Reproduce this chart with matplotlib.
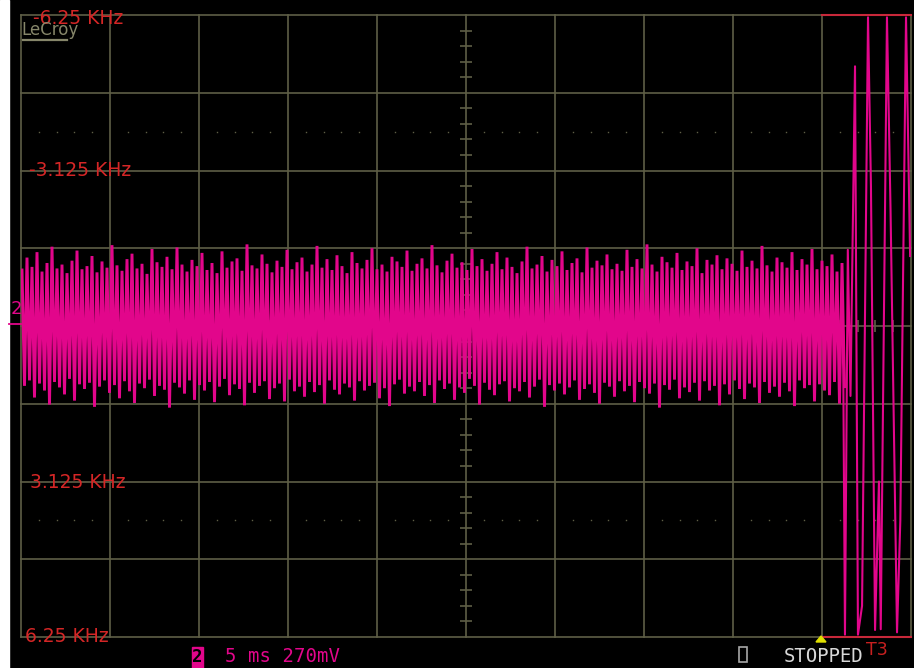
import numpy as np
import matplotlib.pyplot as plt
from matplotlib.patches import Rectangle, Polygon
from matplotlib.lines import Line2D

# screen is 10 x 8 divisions, noise peaks below are in 1/100 division
noise_hi = [72, 88, 76, 95, 70, 81, 102, 74, 79, 68,
            84, 97, 73, 77, 90, 69, 83, 75, 104, 78,
            71, 86, 93, 74, 80, 67, 99, 82, 76, 89,
            73, 101, 79, 70, 85, 77, 94, 72, 81, 68,
            96, 75, 83, 87, 71, 105, 78, 74, 92, 80,
            69, 84, 76, 98, 73, 82, 88, 70, 79, 103,
            75, 86, 72, 91, 77, 68, 95, 81, 74, 85,
            100, 73, 79, 70, 89, 83, 76, 97, 71, 80,
            87, 74, 104, 78, 69, 84, 93, 75, 82, 72,
            99, 77, 86, 71, 80, 95, 73, 88, 76, 68,
            83, 102, 74, 79, 90, 70, 85, 77, 96, 72,
            81, 87, 69, 101, 75, 84, 78, 92, 73, 80,
            71, 98, 76, 86, 74, 105, 79, 70, 89, 82,
            75, 94, 72, 83, 77, 100, 68, 85, 79, 91,
            73, 87, 80, 71, 97, 76, 84, 74, 103, 78,
            70, 88, 82, 75, 95, 72, 86, 79, 99, 73,
            84, 77, 92, 70, 81]
noise_lo = [-77, -70, -92, -74, -83, -101, -72, -79, -88, -68,
            -96, -75, -81, -73, -104, -78, -70, -86, -76, -93,
            -71, -84, -99, -74, -80, -69, -90, -77, -82, -105,
            -73, -79, -87, -70, -95, -76, -83, -72, -98, -78,
            -68, -89, -75, -81, -102, -73, -86, -77, -71, -94,
            -80, -74, -97, -69, -84, -78, -91, -72, -85, -76,
            -100, -70, -82, -88, -74, -79, -96, -71, -83, -77,
            -73, -93, -80, -103, -75, -69, -87, -78, -84, -72,
            -90, -76, -99, -70, -81, -74, -95, -79, -86, -68,
            -77, -101, -73, -82, -89, -75, -71, -97, -80, -84,
            -72, -92, -78, -69, -104, -76, -83, -74, -88, -79,
            -70, -95, -81, -75, -86, -100, -73, -78, -91, -71,
            -84, -77, -98, -72, -80, -87, -74, -105, -76, -82,
            -69, -93, -79, -85, -73, -96, -71, -83, -77, -102,
            -75, -88, -70, -81, -94, -74, -79, -99, -72, -86,
            -78, -91, -73, -84, -103, -70, -80, -76, -97, -75,
            -83, -89, -72, -100, -78]

# end of record: big swings (time, value) in divisions
tail_t = [9.236, 9.258, 9.29, 9.32, 9.371, 9.404, 9.45, 9.517, 9.55, 9.596,
          9.64, 9.66, 9.73, 9.77, 9.843, 9.88, 9.944, 9.99]
tail_v = [-0.05, -3.97, 0.98, -0.9, 3.34, -3.97, -3.6, 3.97, 1.8, -3.91,
          -2.0, -3.9, 3.97, 1.5, -3.94, -2.5, 3.97, 0.9]

freq_labels = ['-6.25 KHz', '-3.125 KHz', '3.125 KHz', '6.25 KHz']

W, H = 914, 668
grid_c = '#5e5e46'
red = '#d42626'
mag = '#e2068b'

def px(x, y):
    return x / W, 1 - y / H

fig = plt.figure(figsize=(W/100, H/100), dpi=100, facecolor='black')
ax = fig.add_axes([21/W, 31/H, 890/W, 622/H])
ax.set_xlim(0, 10)
ax.set_ylim(-4, 4)
ax.axis('off')

# grid
for k in range(11):
    ax.plot([k, k], [-4, 4], color=grid_c, lw=1.2, clip_on=False, zorder=1)
for k in range(-4, 5):
    if abs(k) == 4:
        ax.plot([0, 9], [k, k], color=grid_c, lw=1.2, clip_on=False, zorder=1)
        ax.plot([9, 10], [k, k], color='#c8283a', lw=1.5, clip_on=False, zorder=3)
    else:
        ax.plot([0, 10], [k, k], color=grid_c, lw=1.2, clip_on=False, zorder=1)

minor = np.array([v for v in np.arange(0.2, 10, 0.2) if abs(v - round(v)) > 0.05])
ax.hlines(minor - 4, 5 - 0.07, 5 + 0.07, color=grid_c, lw=1.2, zorder=1)
ax.vlines(minor, -0.08, 0.08, color=grid_c, lw=1.2, zorder=1)
for yy in (2.5, -2.5):
    ax.plot(minor, np.full(len(minor), yy), ls='none', marker='s', ms=1.0,
            color=grid_c, mec='none', zorder=1)

# trace
hi = np.array(noise_hi) / 100
lo = np.array(noise_lo) / 100
t0 = (22 - 21) / 89
t1 = (842 - 21) / 89
t = np.linspace(t0, t1, len(hi))
step = t[1] - t[0]
tt = np.empty(2 * len(hi))
vv = np.empty(2 * len(hi))
tt[0::2] = t
tt[1::2] = t + step / 2
vv[0::2] = hi
vv[1::2] = lo
ax.plot(tt, vv, color=mag, lw=2.1, zorder=2, solid_joinstyle='miter')
ax.plot(np.r_[tt[-1], tail_t], np.r_[vv[-1], tail_v], color=mag, lw=1.5, zorder=2)

# left white strip
fig.patches.append(Rectangle((0, 0), 9/W, 1, transform=fig.transFigure,
                             color='white', zorder=0))

# frequency labels
lab_pos = [(33, 19), (29, 171), (30, 482), (25, 637)]
for s, (x, y) in zip(freq_labels, lab_pos):
    fig.text(*px(x, y), s, color=red, fontsize=13.5, ha='left', va='center',
             family='DejaVu Sans')

# LeCroy logo
fig.text(*px(21, 30), 'LeCroy', color='#86866a', fontsize=12,
         family='DejaVu Sans', ha='left', va='center')
fig.add_artist(Line2D([23/W, 67/W], [1 - 40/H] * 2, color='#86866a', lw=1.6))

# channel marker
fig.text(*px(11, 309), '2', color=mag, fontsize=13, ha='left', va='center')
fig.add_artist(Line2D([9/W, 21/W], [1 - 324/H] * 2, color=mag, lw=1.3))

# bottom status line
fig.patches.append(Rectangle(px(192, 668), 11/W, 21/H, transform=fig.transFigure,
                             color=mag))
fig.text(*px(197.5, 657), '2', color='black', fontsize=12.5, ha='center',
         va='center', family='DejaVu Sans Mono', weight='bold')
fig.text(*px(225, 656), '5 ms 270mV', color=mag, fontsize=13.7, ha='left',
         va='center', family='DejaVu Sans Mono')
fig.patches.append(Rectangle(px(739, 662), 8/W, 15/H, transform=fig.transFigure,
                             fill=False, ec='#a8a8a8', lw=1.2))
fig.text(*px(784, 657), 'STOPPED', color='#d8d8d8', fontsize=13.6, ha='left',
         va='center', family='DejaVu Sans Mono')
fig.text(*px(866, 650), 'T3', color='#c82020', fontsize=12.5, ha='left',
         va='center', family='DejaVu Sans')
fig.patches.append(Polygon([px(816, 642), px(826, 642), px(821, 636)],
                           closed=True, transform=fig.transFigure, color='#e0e000'))

fig.savefig('out.png', dpi=100, facecolor='black')
